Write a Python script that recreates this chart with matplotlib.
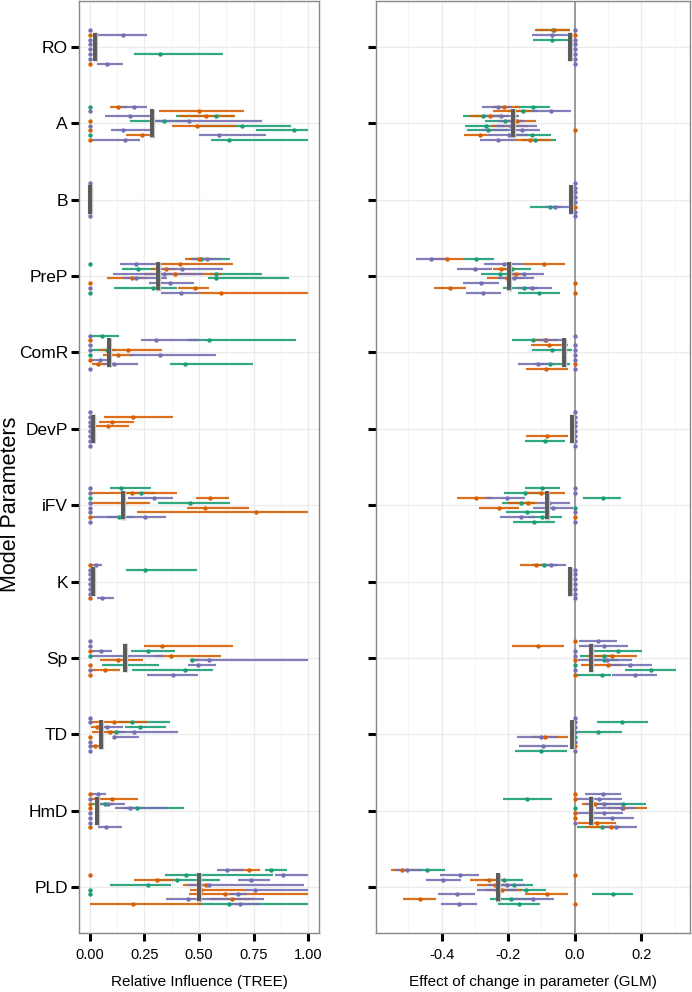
import numpy as np
import matplotlib
matplotlib.use("Agg")
import matplotlib.pyplot as plt

plt.rcParams['font.family'] = ['Liberation Sans', 'DejaVu Sans']

params = ['RO', 'A', 'B', 'PreP', 'ComR', 'DevP', 'iFV', 'K', 'Sp', 'TD', 'HmD', 'PLD']

# each row: list of (series, estimate, lower, upper); series 0/1/2
D = (2, 0, 0, 0)
O = (1, 0, 0, 0)
G = (0, 0, 0, 0)

tree_RO = [[D], [O, (2, 0.153, 0.03, 0.26)], [D], [D], [D],
           [D, (0, 0.32, 0.2, 0.61)], [D], [O, (2, 0.077, 0.034, 0.153)]]
tree_A = [[G, (1, 0.129, 0.093, 0.17), (2, 0.202, 0.14, 0.26)],
          [D, (1, 0.5, 0.315, 0.706)],
          [(2, 0.185, 0.067, 0.285), (0, 0.579, 0.393, 0.66), (1, 0.533, 0.413, 0.666)],
          [O, (0, 0.341, 0.182, 0.45), (2, 0.455, 0.285, 0.787)],
          [D, (1, 0.49, 0.377, 0.668), (0, 0.697, 0.5, 0.922)],
          [O, (2, 0.152, 0.098, 0.285), (0, 0.936, 0.761, 1.0)],
          [G, (1, 0.237, 0.167, 0.294), (2, 0.593, 0.498, 0.807)],
          [O, (2, 0.161, 0.0, 0.228), (0, 0.639, 0.553, 1.0)]]
tree_B = [[D]] * 8
tree_PreP = [[(1, 0.5, 0.435, 0.56), (0, 0.508, 0.46, 0.642), (2, 0.536, 0.47, 0.6)],
             [G, (2, 0.213, 0.139, 0.33), (1, 0.413, 0.32, 0.657)],
             [(0, 0.222, 0.147, 0.3), (1, 0.351, 0.28, 0.4), (2, 0.423, 0.33, 0.608)],
             [(2, 0.34, 0.107, 0.52), (1, 0.392, 0.25, 0.606), (0, 0.579, 0.55, 0.79)],
             [(1, 0.193, 0.077, 0.26), (2, 0.21, 0.15, 0.354), (0, 0.58, 0.542, 0.914)],
             [O, (2, 0.368, 0.27, 0.478)],
             [D, (0, 0.289, 0.11, 0.4), (1, 0.481, 0.404, 0.547)],
             [G, (2, 0.417, 0.326, 0.5), (1, 0.6, 0.5, 1.0)]]
tree_ComR = [[D, (0, 0.054, 0.0, 0.135)],
             [O, (2, 0.303, 0.233, 0.5), (0, 0.545, 0.45, 0.945)],
             [D],
             [D, (0, 0.078, 0.01, 0.12), (1, 0.173, 0.046, 0.331)],
             [G, (1, 0.127, 0.061, 0.2), (2, 0.323, 0.18, 0.576)],
             [O, (2, 0.044, 0.0, 0.089)],
             [(1, 0.035, 0.008, 0.1), (2, 0.112, 0.06, 0.222), (0, 0.435, 0.369, 0.747)],
             [D]]
tree_DevP = [[D], [D, (1, 0.198, 0.063, 0.381)], [D, (1, 0.101, 0.04, 0.2)],
             [D, (1, 0.083, 0.006, 0.178)], [D], [D], [D], [D]]
tree_iFV = [[D, (0, 0.141, 0.093, 0.279)],
            [D, (0, 0.233, 0.15, 0.3), (1, 0.194, 0.0, 0.401)],
            [G, (2, 0.294, 0.175, 0.383), (1, 0.551, 0.484, 0.636)],
            [D, (1, 0.158, 0.0, 0.274), (0, 0.459, 0.314, 0.642)],
            [D, (1, 0.528, 0.446, 0.73)],
            [D, (1, 0.761, 0.217, 1.0)],
            [O, (0, 0.132, 0.08, 0.2), (2, 0.254, 0.006, 0.351)],
            [D]]
tree_K = [[O, (2, 0.029, 0.0, 0.055)], [D, (0, 0.251, 0.164, 0.49)],
          [D], [D], [D], [D], [D], [O, (2, 0.055, 0.034, 0.11)]]
tree_Sp = [[D], [D, (1, 0.332, 0.248, 0.655)],
           [O, (2, 0.052, 0.0, 0.103), (0, 0.266, 0.187, 0.389)],
           [G, (2, 0.167, 0.0, 0.335), (1, 0.372, 0.3, 0.603)],
           [(1, 0.127, 0.047, 0.243), (0, 0.467, 0.461, 0.5), (2, 0.544, 0.47, 1.0)],
           [O, (0, 0.159, 0.055, 0.317), (2, 0.496, 0.45, 0.577)],
           [D, (1, 0.067, 0.0, 0.136), (0, 0.436, 0.191, 0.564)],
           [O, (2, 0.38, 0.262, 0.496)]]
tree_TD = [[D], [D, (1, 0.11, 0.0, 0.26), (0, 0.194, 0.13, 0.369)],
           [(1, 0.034, 0.003, 0.08), (2, 0.077, 0.03, 0.152), (0, 0.23, 0.162, 0.351)],
           [(1, 0.092, 0.009, 0.14), (0, 0.121, 0.08, 0.16), (2, 0.2, 0.12, 0.403)],
           [O, (2, 0.11, 0.104, 0.224)], [D], [D, (1, 0.025, 0.0, 0.049)], [D]]
tree_HmD = [[O, (2, 0.037, 0.0, 0.074)], [D, (1, 0.1, 0.0, 0.22)],
            [O, (0, 0.067, 0.0, 0.11), (2, 0.083, 0.04, 0.159)],
            [O, (2, 0.184, 0.116, 0.36), (0, 0.216, 0.15, 0.43)],
            [D], [D], [D], [O, (2, 0.074, 0.038, 0.149)]]
tree_PLD = [[(2, 0.628, 0.582, 0.7), (1, 0.73, 0.65, 0.781), (0, 0.83, 0.804, 0.904)],
            [O, (0, 0.441, 0.346, 0.84), (2, 0.887, 0.85, 0.998)],
            [(1, 0.308, 0.2, 0.38), (0, 0.398, 0.3, 0.597), (2, 0.738, 0.677, 0.827)],
            [(0, 0.268, 0.092, 0.37), (1, 0.533, 0.426, 0.55), (2, 0.547, 0.45, 0.98)],
            [G, (1, 0.51, 0.459, 0.71), (2, 0.758, 0.71, 0.998)],
            [G, (1, 0.617, 0.452, 1.0), (2, 0.681, 0.64, 0.72)],
            [(1, 0.652, 0.55, 0.75), (2, 0.449, 0.349, 0.799)],
            [(1, 0.199, 0.0, 0.508), (0, 0.637, 0.495, 1.0), (2, 0.686, 0.65, 0.78)]]

glm_RO = [[(0, -0.065, -0.12, -0.013), (1, -0.063, -0.115, -0.013), D],
          [(2, -0.069, -0.128, -0.013), O],
          [(0, -0.069, -0.127, -0.013), D], [D], [D], [D], [D], [D]]
glm_A = [[(2, -0.232, -0.278, -0.19), (1, -0.212, -0.25, -0.165), (0, -0.127, -0.18, -0.073)],
         [(1, -0.185, -0.245, -0.13), (0, -0.156, -0.2, -0.11), (2, -0.07, -0.13, -0.01)],
         [(0, -0.275, -0.335, -0.22), (1, -0.256, -0.315, -0.2), (2, -0.221, -0.27, -0.168)],
         [(0, -0.21, -0.27, -0.16), (2, -0.19, -0.23, -0.15), (1, -0.175, -0.21, -0.115)],
         [(0, -0.267, -0.33, -0.21), (1, -0.19, -0.25, -0.14), (2, -0.192, -0.24, -0.113)],
         [(0, -0.262, -0.323, -0.2), (2, -0.16, -0.28, -0.105), O],
         [(1, -0.285, -0.333, -0.26), (2, -0.197, -0.26, -0.14), (0, -0.13, -0.19, -0.07)],
         [(2, -0.232, -0.285, -0.177), (1, -0.135, -0.177, -0.07), (0, -0.118, -0.16, -0.055)]]
glm_B = [[D], [D], [D], [D], [D],
         [O, (0, -0.073, -0.135, -0.04), (2, -0.058, -0.09, -0.013)], [D], [D]]
glm_PreP = [[(2, -0.432, -0.477, -0.385), (1, -0.385, -0.43, -0.335), (0, -0.296, -0.335, -0.243)],
            [(2, -0.213, -0.273, -0.155), (1, -0.092, -0.155, -0.03)],
            [(2, -0.301, -0.353, -0.25), (1, -0.223, -0.245, -0.18), (0, -0.19, -0.23, -0.132)],
            [(0, -0.225, -0.283, -0.18), (1, -0.177, -0.2, -0.15), (2, -0.154, -0.2, -0.092)],
            [(1, -0.205, -0.265, -0.16), (2, -0.182, -0.23, -0.122)],
            [(2, -0.282, -0.335, -0.227), O],
            [(1, -0.375, -0.423, -0.328), (0, -0.154, -0.215, -0.11), (2, -0.129, -0.17, -0.067)],
            [(2, -0.275, -0.328, -0.223), (0, -0.107, -0.17, -0.043), O]]
glm_ComR = [[D],
            [(0, -0.127, -0.19, -0.08), (1, -0.09, -0.13, -0.05), (2, -0.087, -0.11, -0.03)],
            [(1, -0.077, -0.132, -0.02), D],
            [(0, -0.067, -0.128, -0.009), D],
            [D], [D],
            [(2, -0.109, -0.172, -0.06), (0, -0.075, -0.12, -0.015), O],
            [(1, -0.085, -0.148, -0.02), D]]
glm_DevP = [[D], [D], [D], [D], [D], [D, (1, -0.082, -0.147, -0.019)],
            [D, (0, -0.089, -0.151, -0.029)], [D]]
glm_iFV = [[(0, -0.097, -0.151, -0.044), D],
           [(0, -0.151, -0.213, -0.1), (1, -0.1, -0.151, -0.029), D],
           [(1, -0.297, -0.354, -0.25), (2, -0.205, -0.27, -0.151), (0, 0.084, 0.024, 0.14)],
           [(0, -0.161, -0.219, -0.12), (1, -0.14, -0.2, -0.11), (2, -0.077, -0.11, -0.015)],
           [(1, -0.227, -0.288, -0.169), (2, -0.064, -0.126, -0.005), G],
           [(0, -0.144, -0.207, -0.084), D],
           [(2, -0.162, -0.225, -0.12), (0, -0.098, -0.14, -0.037), O],
           [(0, -0.121, -0.185, -0.058), D]]
glm_K = [[(1, -0.117, -0.165, -0.08), (0, -0.091, -0.13, -0.05), (2, -0.072, -0.1, -0.027)],
         [D], [D], [D], [D], [D], [D], [D]]
glm_Sp = [[O, (2, 0.071, 0.013, 0.126)],
          [(1, -0.111, -0.19, -0.032), (2, 0.087, 0.013, 0.161)],
          [D, (0, 0.131, 0.059, 0.203)],
          [D, (0, 0.089, 0.015, 0.12), (1, 0.112, 0.039, 0.186)],
          [O, (0, 0.088, 0.04, 0.13), (2, 0.098, 0.011, 0.173)],
          [G, (1, 0.1, 0.018, 0.14), (2, 0.166, 0.1, 0.233)],
          [D, (0, 0.228, 0.151, 0.303)],
          [O, (0, 0.083, 0.003, 0.11), (2, 0.181, 0.113, 0.248)]]
glm_TD = [[D], [D, (0, 0.143, 0.067, 0.219)], [D], [D, (0, 0.071, 0.0, 0.143)],
          [G, (2, -0.1, -0.174, -0.05), (1, -0.09, -0.13, -0.019)],
          [D], [O, (2, -0.094, -0.169, -0.019)], [D, (0, -0.1, -0.179, -0.023)]]
glm_HmD = [[O, (2, 0.085, 0.03, 0.138)],
           [O, (0, -0.143, -0.217, -0.069), (2, 0.073, 0.0, 0.141)],
           [(1, 0.06, 0.021, 0.1), (2, 0.088, 0.03, 0.14), (0, 0.144, 0.08, 0.213)],
           [G, (2, 0.141, 0.065, 0.18), (1, 0.146, 0.1, 0.218)],
           [O, (2, 0.088, 0.0, 0.146)],
           [O, (2, 0.111, 0.043, 0.178)],
           [D, (1, 0.066, 0.009, 0.123)],
           [(0, 0.081, 0.006, 0.12), (1, 0.108, 0.035, 0.14), (2, 0.124, 0.09, 0.188)]]
glm_PLD = [[(1, -0.52, -0.553, -0.49), (2, -0.503, -0.54, -0.46), (0, -0.445, -0.49, -0.39)],
           [(2, -0.345, -0.405, -0.287), O],
           [(2, -0.395, -0.448, -0.343), (1, -0.257, -0.315, -0.21), (0, -0.213, -0.27, -0.155)],
           [(1, -0.24, -0.295, -0.2), (2, -0.205, -0.26, -0.15), (0, -0.183, -0.24, -0.125)],
           [(2, -0.235, -0.293, -0.175), (1, -0.219, -0.27, -0.16), (0, -0.148, -0.2, -0.087)],
           [(2, -0.355, -0.41, -0.3), (1, -0.083, -0.15, -0.019), (0, 0.115, 0.052, 0.175)],
           [(1, -0.465, -0.516, -0.417), (0, -0.193, -0.255, -0.13), (2, -0.125, -0.19, -0.063)],
           [(2, -0.347, -0.402, -0.293), (0, -0.167, -0.23, -0.103), O]]

tree_median = [0.023, 0.285, 0.0, 0.314, 0.089, 0.014, 0.153, 0.012, 0.159, 0.049, 0.031, 0.498]
glm_median = [-0.013, -0.186, -0.01, -0.197, -0.031, -0.009, -0.084, -0.014, 0.05, -0.009, 0.048, -0.23]

tree_data = [tree_RO, tree_A, tree_B, tree_PreP, tree_ComR, tree_DevP,
             tree_iFV, tree_K, tree_Sp, tree_TD, tree_HmD, tree_PLD]
glm_data = [glm_RO, glm_A, glm_B, glm_PreP, glm_ComR, glm_DevP,
            glm_iFV, glm_K, glm_Sp, glm_TD, glm_HmD, glm_PLD]

colors = ['#1B9E77', '#D95F02', '#7570B3']
dodge = 0.0625


def draw_panel(ax, data, medians, xlim, major, minor, ticklabels):
    ax.set_xlim(*xlim)
    ax.set_ylim(len(params) - 0.4, -0.6)
    for x in minor:
        ax.axvline(x, color='#F2F2F2', lw=0.6, zorder=0)
    for x in major:
        ax.axvline(x, color='#EBEBEB', lw=1.0, zorder=0)
    for i in range(len(params)):
        ax.axhline(i, color='#EBEBEB', lw=1.0, zorder=0)

    # collect by series
    pts = {s: [] for s in range(3)}
    for i, rows in enumerate(data):
        for k, row in enumerate(rows):
            y = i + (k - 3.5) * dodge
            for s, est, lo, hi in row:
                pts[s].append((y, est, lo, hi))
    for s in range(3):
        a = np.array(pts[s])
        ax.hlines(a[:, 0], a[:, 2], a[:, 3], color=colors[s], lw=1.6,
                  alpha=0.9, capstyle='butt', zorder=2 + s * 0.1)
    for s in range(3):
        a = np.array(pts[s])
        ax.scatter(a[:, 1], a[:, 0], s=10, color=colors[s], lw=0, zorder=3 + s * 0.1)

    yy = np.arange(len(params))
    ax.vlines(medians, yy - 0.19, yy + 0.19, color='#C8C8C8', lw=3.8, zorder=4)
    ax.vlines(medians, yy - 0.185, yy + 0.185, color='#5A5A5A', lw=2.8, zorder=4.1)

    ax.set_xticks(major)
    ax.set_xticklabels(ticklabels, fontsize=10.5)
    ax.set_yticks(yy)
    ax.tick_params(axis='both', length=6, width=2.2, color='black', pad=2)
    ax.tick_params(axis='x', pad=5)
    for sp in ax.spines.values():
        sp.set_color('#888888')
        sp.set_linewidth(1.0)


fig = plt.figure(figsize=(6.92, 9.92), dpi=100)
ax1 = fig.add_axes([79 / 692, 59 / 992, 240 / 692, 932 / 992])
ax2 = fig.add_axes([376 / 692, 59 / 992, 314 / 692, 932 / 992])

draw_panel(ax1, tree_data, tree_median, (-0.05, 1.05),
           [0, 0.25, 0.5, 0.75, 1.0], [0.125, 0.375, 0.625, 0.875],
           ['0.00', '0.25', '0.50', '0.75', '1.00'])
ax1.set_yticklabels(params, fontsize=12.5)
ax1.set_xlabel('Relative Influence (TREE)', fontsize=11, labelpad=9)
ax1.set_ylabel('Model Parameters', fontsize=15.5)
ax1.yaxis.set_label_coords(-0.24, 0.46)

ax2.axvline(0, color='#9A9A9A', lw=1.4, zorder=1)
draw_panel(ax2, glm_data, glm_median, (-0.597, 0.346),
           [-0.4, -0.2, 0.0, 0.2], [-0.5, -0.3, -0.1, 0.1, 0.3],
           ['-0.4', '-0.2', '0.0', '0.2'])
ax2.set_yticklabels([])
ax2.set_xlabel('Effect of change in parameter (GLM)', fontsize=11, labelpad=9)

fig.savefig('out.png', dpi=100)
